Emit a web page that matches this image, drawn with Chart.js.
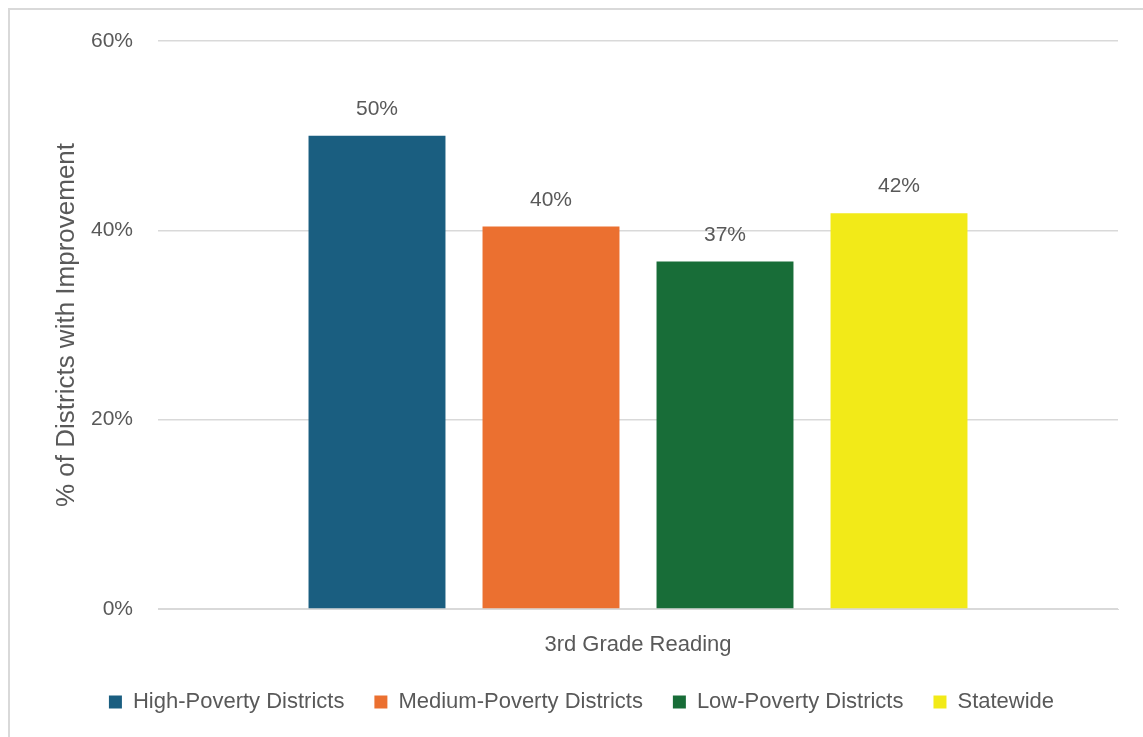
<!DOCTYPE html>
<html>
<head>
<meta charset="utf-8">
<script src="https://cdn.jsdelivr.net/npm/chart.js@4"></script>
<style>
  html, body { margin: 0; padding: 0; background: #fff; overflow: hidden; }
  #frame { position: absolute; left: 8px; top: 8px; width: 1200px; height: 800px;
           border-left: 2px solid #d9d9d9; border-top: 2px solid #d9d9d9; }
  #wrap { position: absolute; left: 0; top: 0; width: 1143px; height: 737px; }
</style>
</head>
<body>
<div id="frame"></div>
<div id="wrap"><canvas id="chart"></canvas></div>
<script>
const categories = ['3rd Grade Reading'];
const seriesNames = ['High-Poverty Districts', 'Medium-Poverty Districts', 'Low-Poverty Districts', 'Statewide'];
const seriesValues = [50, 40.4, 36.7, 41.8];
const seriesLabels = ['50%', '40%', '37%', '42%'];
const seriesColors = ['#1a5e80', '#eb7030', '#186d38', '#f2ea18'];

const textColor = '#595959';
const font = "'Liberation Sans', Arial, sans-serif";

const valueLabels = {
  id: 'valueLabels',
  afterDatasetsDraw(chart) {
    const ctx = chart.ctx;
    ctx.save();
    ctx.font = '21px ' + font;
    ctx.fillStyle = textColor;
    ctx.textAlign = 'center';
    ctx.textBaseline = 'alphabetic';
    chart.data.datasets.forEach((ds, i) => {
      const bar = chart.getDatasetMeta(i).data[0];
      ctx.fillText(seriesLabels[i], bar.x, bar.y - 21);
    });
    ctx.restore();
  }
};

new Chart(document.getElementById('chart'), {
  type: 'bar',
  data: {
    labels: categories,
    datasets: seriesNames.map((name, i) => ({
      label: name,
      data: [seriesValues[i]],
      backgroundColor: seriesColors[i],
      categoryPercentage: 0.725,
      barPercentage: 0.787
    }))
  },
  options: {
    responsive: true,
    maintainAspectRatio: false,
    animation: false,
    layout: { padding: { left: 45, right: 25, top: 41, bottom: 14 } },
    plugins: {
      tooltip: { enabled: false },
      legend: {
        position: 'bottom',
        labels: {
          boxWidth: 13, boxHeight: 13, padding: 30,
          color: textColor,
          font: { family: font, size: 22 }
        }
      }
    },
    scales: {
      x: {
        grid: { display: false },
        border: { display: true, color: '#d9d9d9' },
        ticks: { color: textColor, font: { family: font, size: 22 }, padding: 15 },
        afterFit(scale) { scale.height = 52; }
      },
      y: {
        min: 0, max: 60,
        border: { display: false },
        grid: { color: '#d9d9d9', lineWidth: 1.5, drawTicks: false },
        ticks: {
          stepSize: 20, padding: 25,
          color: textColor, font: { family: font, size: 21 },
          callback: v => v + '%'
        },
        title: {
          display: true,
          text: '% of Districts with Improvement',
          color: textColor,
          font: { family: font, size: 26 },
          padding: { top: 6, bottom: 9 }
        },
        afterFit(scale) { scale.width = 113; }
      }
    }
  },
  plugins: [valueLabels]
});
</script>
</body>
</html>
